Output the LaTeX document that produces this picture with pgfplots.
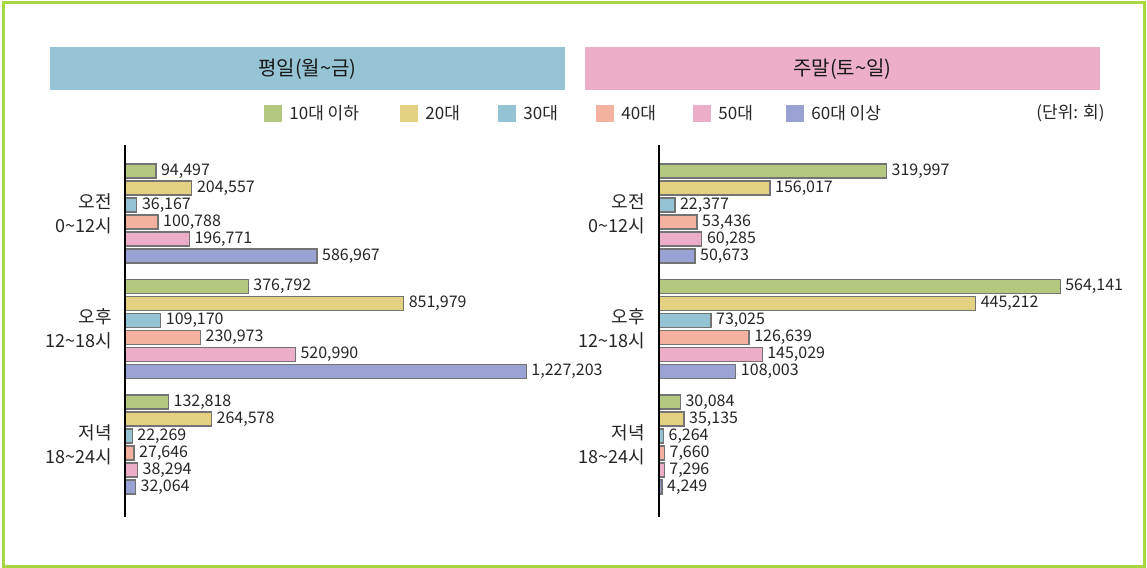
\documentclass[border=0pt]{standalone}
\usepackage{fontspec}
\setmainfont{Noto Sans CJK KR}
\usepackage{pgfplots}
\usepackage{pgfplotstable}
\pgfplotsset{compat=1.18}

\definecolor{c10}{HTML}{B3C77F}
\definecolor{c20}{HTML}{E1D180}
\definecolor{c30}{HTML}{94C4D4}
\definecolor{c40}{HTML}{F4B1A0}
\definecolor{c50}{HTML}{ECADC8}
\definecolor{c60}{HTML}{9AA2D4}
\definecolor{hdrL}{HTML}{96C4D4}
\definecolor{hdrR}{HTML}{ECAEC8}
\definecolor{frame}{HTML}{A8D840}

% weekday (Mon-Fri), unit: times
\pgfplotstableread{
grp a10 l10 a20 l20 a30 l30 a40 l40 a50 l50 a60 l60
0 94497 94,497 204557 204,557 36167 36,167 100788 100,788 196771 196,771 586967 586,967
1 376792 376,792 851979 851,979 109170 109,170 230973 230,973 520990 520,990 1227203 1,227,203
2 132818 132,818 264578 264,578 22269 22,269 27646 27,646 38294 38,294 32064 32,064
}\weekday

% weekend (Sat-Sun)
\pgfplotstableread{
grp a10 l10 a20 l20 a30 l30 a40 l40 a50 l50 a60 l60
0 319997 319,997 156017 156,017 22377 22,377 53436 53,436 60285 60,285 50673 50,673
1 564141 564,141 445212 445,212 73025 73,025 126639 126,639 145029 145,029 108003 108,003
2 30084 30,084 35135 35,135 6264 6,264 7660 7,660 7296 7,296 4249 4,249
}\weekend

\pgfplotsset{
  panel/.style={
    scale only axis, hide axis, clip=false,
    xbar, bar shift=0pt, bar width=14,
    xmin=0, ymin=145, ymax=517, y dir=reverse,
    height=186pt,
    every axis plot/.append style={draw=black!55, line width=0.6pt},
    nodes near coords, point meta=explicit symbolic,
    nodes near coords align={horizontal},
    every node near coord/.append style={font=\fontsize{8}{8}\selectfont,
      anchor=west, inner sep=2.3pt, text=black!85},
  },
}

\newcommand{\bars}[1]{%
  \addplot[fill=c10] table[x=a10, y expr=171+115.5*\thisrow{grp}, meta=l10] {#1};
  \addplot[fill=c20] table[x=a20, y expr=188+115.5*\thisrow{grp}, meta=l20] {#1};
  \addplot[fill=c30] table[x=a30, y expr=205+115.5*\thisrow{grp}, meta=l30] {#1};
  \addplot[fill=c40] table[x=a40, y expr=222+115.5*\thisrow{grp}, meta=l40] {#1};
  \addplot[fill=c50] table[x=a50, y expr=239+115.5*\thisrow{grp}, meta=l50] {#1};
  \addplot[fill=c60] table[x=a60, y expr=256+115.5*\thisrow{grp}, meta=l60] {#1};
  \draw[black, line width=0.6pt] (axis cs:0,145) -- (axis cs:0,517);
}

\begin{document}
\begin{tikzpicture}
\begin{scope}[x=0.5pt, y=-0.5pt]
  \fill[white] (0,0) rectangle (1147,568);
  \draw[frame, line width=1.5pt] (3.5,2) -- (3.5,566) -- (1144.5,566) -- (1144.5,2);
  \draw[frame, line width=1.5pt] (2,2) -- (1146,2);
  % headers
  \fill[hdrL] (50,47) rectangle (565,90);
  \fill[hdrR] (585,47) rectangle (1100,90);
  \node[font=\fontsize{10}{10}\selectfont, text=black!90] at (307.5,69) {평일(월\textasciitilde 금)};
  \node[font=\fontsize{10}{10}\selectfont, text=black!90] at (842.5,69) {주말(토\textasciitilde 일)};
  % legend
  \foreach \sx/\c/\t in {264/c10/10대 이하, 400/c20/20대, 498/c30/30대,
                        596/c40/40대, 693/c50/50대, 786/c60/60대 이상}{
    \fill[\c] (\sx,105) rectangle ++(18,17);
    \node[anchor=west, inner sep=0pt, font=\fontsize{8.5}{9}\selectfont, text=black!85] at (\sx+25,113.5) {\t};
  }
  \node[anchor=east, inner sep=0pt, font=\fontsize{8.5}{9}\selectfont, text=black!85] at (1105,113.5) {(단위: 회)};
  % group labels
  \foreach \gx in {112, 645}{
    \node[anchor=east, align=right, inner sep=0pt, text=black!85, font=\fontsize{9}{12}\selectfont] at (\gx,213.5) {오전\\0\textasciitilde 12시};
    \node[anchor=east, align=right, inner sep=0pt, text=black!85, font=\fontsize{9}{12}\selectfont] at (\gx,329) {오후\\12\textasciitilde 18시};
    \node[anchor=east, align=right, inner sep=0pt, text=black!85, font=\fontsize{9}{12}\selectfont] at (\gx,444.5) {저녁\\18\textasciitilde 24시};
  }
\end{scope}

\begin{axis}[panel, at={(62.5pt,-72.5pt)}, anchor=north west,
    width=210pt, xmax=1284400]
  \bars{\weekday}
\end{axis}

\begin{axis}[panel, at={(329.5pt,-72.5pt)}, anchor=north west,
    width=225.5pt, xmax=634300]
  \bars{\weekend}
\end{axis}

\pgfresetboundingbox
\path (0,0) rectangle (573.5pt,-284pt);
\end{tikzpicture}
\end{document}
